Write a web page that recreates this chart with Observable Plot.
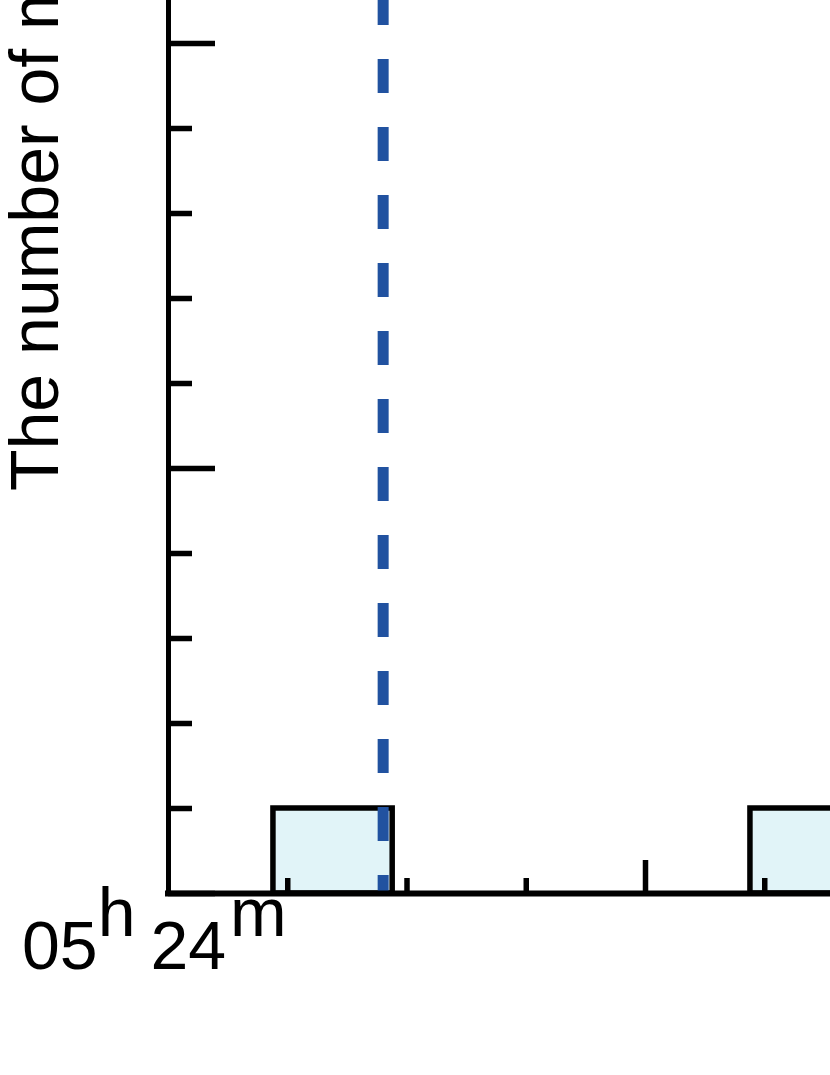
<!DOCTYPE html>
<html><head><meta charset="utf-8">
<script src="https://cdn.jsdelivr.net/npm/d3@7"></script>
<script src="https://cdn.jsdelivr.net/npm/@observablehq/plot@0.6"></script>
<style>body{margin:0;background:#fff} svg{display:block}</style>
</head><body><div id="chart"></div>
<script>
// seconds after 05h24m
const binStart = [13.2, 73.2];
const binEnd = [28.2, 88.2];
const counts = [1, 1];
const eventTime = [27];
const yMinorTicks = [1, 2, 3, 4, 6, 7, 8, 9];
const yMajorTicks = [0, 5, 10];
const xMinorTicks = [15, 30, 45, 75];
const xMajorTicks = [60];
const startHour = "05", startMinute = "24";
const yLabel = "The number of meteors";

const bars = binStart.map((s, i) => ({x1: s, x2: binEnd[i], y: counts[i]}));

const W = 830, H = 1075, mL = 168, mB = 182;
const xMax = 83.27, yMax = 10.506;
const FONT = "'Liberation Sans', Arial, Helvetica, sans-serif";

const plot = Plot.plot({
  width: W, height: H,
  marginLeft: mL, marginRight: 0, marginTop: 0, marginBottom: mB,
  style: {background: "white", fontFamily: FONT, overflow: "hidden"},
  x: {domain: [0, xMax]},
  y: {domain: [0, yMax]},
  marks: [
    Plot.rect(bars, {x1: "x1", x2: "x2", y1: 0, y2: "y", fill: "#e1f4f8", stroke: "#000", strokeWidth: 5.5}),
    Plot.ruleX(eventTime, {x: d => d, y1: yMax, y2: 0, stroke: "#2152a0", strokeWidth: 11, strokeDasharray: "34,34", strokeDashoffset: 9}),
    Plot.axisY(yMinorTicks, {tickSize: -24, tickFormat: () => "", strokeWidth: 5.5, stroke: "#000", label: null}),
    Plot.axisY(yMajorTicks, {tickSize: -47, tickFormat: () => "", strokeWidth: 5.5, stroke: "#000", label: null}),
    Plot.axisX(xMinorTicks, {tickSize: -15, tickFormat: () => "", strokeWidth: 5.5, stroke: "#000", label: null}),
    Plot.axisX(xMajorTicks, {tickSize: -33, tickFormat: () => "", strokeWidth: 5.5, stroke: "#000", label: null}),
    Plot.ruleX([0], {strokeWidth: 5, stroke: "#000", strokeLinecap: "square"}),
    Plot.ruleY([0], {strokeWidth: 6, stroke: "#000", strokeLinecap: "square"})
  ]
});

const svg = d3.select(plot);
const x0 = plot.scale("x").apply(0);
const y0 = plot.scale("y").apply(0);

const lab = svg.append("text")
  .attr("x", x0 - 146).attr("y", y0 + 76)
  .attr("text-anchor", "start")
  .attr("font-size", 68).attr("font-family", FONT).attr("fill", "#000");
lab.append("tspan").text(startHour);
lab.append("tspan").attr("dy", -33).text("h");
lab.append("tspan").attr("dy", 33).attr("dx", 15).text(startMinute);
lab.append("tspan").attr("dy", -33).attr("dx", 4).text("m");

svg.append("text")
  .attr("transform", `translate(58, ${y0 - 402}) rotate(-90)`)
  .attr("font-size", 68).attr("font-family", FONT).attr("fill", "#000")
  .attr("text-anchor", "start")
  .text(yLabel);

document.getElementById("chart").append(plot);
</script>
</body></html>
